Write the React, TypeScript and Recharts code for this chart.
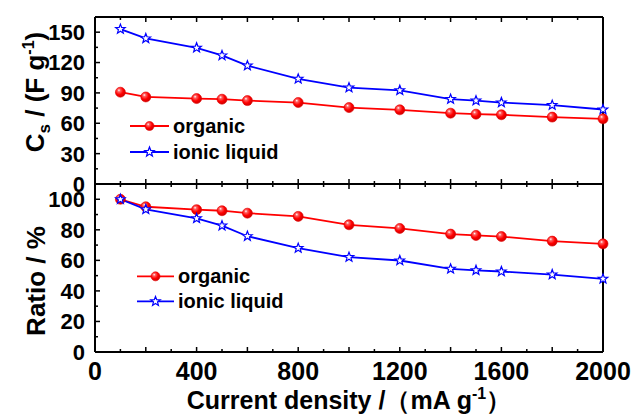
import React from 'react';
import { LineChart, Line, XAxis, YAxis, Legend } from 'recharts';

// current density, mA g-1
const currentDensity = [100, 200, 400, 500, 600, 800, 1000, 1200, 1400, 1500, 1600, 1800, 2000];
// specific capacitance, F g-1
const csOrganic = [90.7, 86, 84.4, 83.8, 82.4, 80.5, 75.5, 73.3, 70, 69, 68.4, 66.1, 64.4];
const csIonic = [153, 143.8, 134.6, 127, 116.9, 103.8, 95.2, 92.6, 83.8, 82.4, 80.5, 77.9, 73.6];
// capacitance retention, %
const ratioOrganic = [100, 95.1, 93.2, 92.5, 90.9, 88.8, 83.3, 80.9, 77.2, 76.3, 75.6, 72.6, 70.8];
const ratioIonic = [100, 93.4, 87.5, 82.7, 75.8, 68, 62.1, 59.9, 54.4, 53.5, 52.7, 50.7, 47.9];

const xTicks = [0, 100, 200, 300, 400, 500, 600, 700, 800, 900, 1000, 1100, 1200, 1300, 1400, 1500, 1600, 1700, 1800, 1900, 2000];
const csTicks = [0, 15, 30, 45, 60, 75, 90, 105, 120, 135, 150, 165];
const ratioTicks = [0, 10, 20, 30, 40, 50, 60, 70, 80, 90, 100, 110];

const seriesNames = ['organic', 'ionic liquid'];

const topData = currentDensity.map((x, i) => ({ x, organic: csOrganic[i], ionic: csIonic[i] }));
const bottomData = currentDensity.map((x, i) => ({ x, organic: ratioOrganic[i], ionic: ratioIonic[i] }));

const FONT = '"Liberation Sans", Arial, sans-serif';
const RED = '#ff0000';
const BLUE = '#0000ff';

type Side = 'left' | 'right' | 'top' | 'bottom';

const tickRenderer = (side: Side, majorStep: number, labelStep: number | null, fontSize = 22, maxLabel = Infinity) =>
  (props: any) => {
    const { x, y, payload } = props;
    const v: number = payload.value;
    const len = v % majorStep === 0 ? 5 : 3;
    const dx = side === 'left' ? len : side === 'right' ? -len : 0;
    const dy = side === 'top' ? len : side === 'bottom' ? -len : 0;
    const showLabel = labelStep !== null && v % labelStep === 0 && v <= maxLabel;
    return (
      <g>
        <line x1={x} y1={y} x2={x + dx} y2={y + dy} stroke="#000" strokeWidth={1.5} />
        {showLabel && side === 'left' && (
          <text x={x - 10} y={y} dy="0.36em" textAnchor="end" fontFamily={FONT} fontWeight="bold" fontSize={fontSize} fill="#000">
            {v}
          </text>
        )}
        {showLabel && side === 'bottom' && (
          <text x={x} y={y + 28} textAnchor="middle" fontFamily={FONT} fontWeight="bold" fontSize={fontSize} fill="#000">
            {v}
          </text>
        )}
      </g>
    );
  };

const Ball = ({ cx, cy, r = 5 }: { cx: number; cy: number; r?: number }) => (
  <circle cx={cx} cy={cy} r={r} fill="url(#ballGrad)" stroke="#e00000" strokeWidth={0.6} />
);

const Star = ({ cx, cy, r = 5 }: { cx: number; cy: number; r?: number }) => {
  const pts: string[] = [];
  for (let k = 0; k < 10; k++) {
    const rad = k % 2 === 0 ? r : r * 0.42;
    const a = -Math.PI / 2 + (k * Math.PI) / 5;
    pts.push(`${cx + rad * Math.cos(a)},${cy + rad * Math.sin(a)}`);
  }
  return <polygon points={pts.join(' ')} fill="#fff" stroke={BLUE} strokeWidth={1.2} />;
};

const renderBall = (p: any) => <Ball key={`b${p.index}`} cx={p.cx} cy={p.cy} />;
const renderStar = (p: any) => <Star key={`s${p.index}`} cx={p.cx} cy={p.cy} />;

const LegendBox = ({ lineW, rowH }: { lineW: number; rowH: number }) => (
  <div style={{ fontFamily: FONT, fontWeight: 'bold', fontSize: 20, color: '#000' }}>
    {seriesNames.map((name, i) => (
      <div key={name} style={{ display: 'flex', alignItems: 'center', height: rowH, whiteSpace: 'nowrap' }}>
        <svg width={lineW} height={rowH} style={{ display: 'block' }}>
          <line x1={0} y1={rowH / 2} x2={lineW} y2={rowH / 2} stroke={i === 0 ? RED : BLUE} strokeWidth={1.8} />
          {i === 0 ? <Ball cx={lineW / 2} cy={rowH / 2} r={4.5} /> : <Star cx={lineW / 2} cy={rowH / 2} />}
        </svg>
        <span style={{ marginLeft: 4, lineHeight: 1 }}>{name}</span>
      </div>
    ))}
  </div>
);

const axisLine = { stroke: '#000', strokeWidth: 2 };

export default function App() {
  return (
    <div style={{ position: 'absolute', left: 0, top: 0, width: 633, height: 414, background: '#fff' }}>
      <svg width={0} height={0} style={{ position: 'absolute' }}>
        <defs>
          <radialGradient id="ballGrad" cx="0.4" cy="0.38" r="0.65" fx="0.35" fy="0.3">
            <stop offset="0%" stopColor="#ffffff" />
            <stop offset="22%" stopColor="#ff6060" />
            <stop offset="60%" stopColor="#ff0000" />
            <stop offset="100%" stopColor="#c80000" />
          </radialGradient>
        </defs>
      </svg>

      {/* lower panel: retention ratio */}
      <div style={{ position: 'absolute', left: 0, top: 0 }}>
        <LineChart width={633} height={414} data={bottomData} margin={{ top: 183, right: 29, bottom: 61, left: 0 }}>
          <XAxis dataKey="x" type="number" domain={[0, 2000]} ticks={xTicks} interval={0} height={1}
            axisLine={axisLine} tickLine={false} tickSize={0} tickMargin={0}
            tick={tickRenderer('bottom', 200, 400, 25)} />
          <XAxis xAxisId="t" dataKey="x" type="number" orientation="top" domain={[0, 2000]} ticks={xTicks} interval={0} height={1}
            axisLine={axisLine} tickLine={false} tickSize={0} tickMargin={0}
            tick={tickRenderer('top', 200, null)} />
          <YAxis type="number" domain={[0, 110]} ticks={ratioTicks} interval={0} width={95}
            axisLine={axisLine} tickLine={false} tickSize={0} tickMargin={0}
            tick={tickRenderer('left', 20, 20, 22, 100)} />
          <YAxis yAxisId="r" type="number" orientation="right" domain={[0, 110]} ticks={ratioTicks} interval={0} width={1}
            axisLine={axisLine} tickLine={false} tickSize={0} tickMargin={0}
            tick={tickRenderer('right', 20, null)} />
          <Legend layout="vertical" align="center" verticalAlign="middle"
            wrapperStyle={{ left: 137, top: 264, width: 'auto' }}
            content={() => <LegendBox lineW={37} rowH={24.7} />} />
          <Line dataKey="organic" type="linear" stroke={RED} strokeWidth={1.8} dot={renderBall} isAnimationActive={false} />
          <Line dataKey="ionic" type="linear" stroke={BLUE} strokeWidth={1.8} dot={renderStar} isAnimationActive={false} />
        </LineChart>
      </div>

      {/* upper panel: specific capacitance */}
      <div style={{ position: 'absolute', left: 0, top: 0 }}>
        <LineChart width={633} height={414} data={topData} margin={{ top: 16, right: 29, bottom: 229, left: 0 }}>
          <XAxis dataKey="x" type="number" domain={[0, 2000]} ticks={xTicks} interval={0} height={1}
            axisLine={axisLine} tickLine={false} tickSize={0} tickMargin={0}
            tick={tickRenderer('bottom', 200, null)} />
          <XAxis xAxisId="t" dataKey="x" type="number" orientation="top" domain={[0, 2000]} ticks={xTicks} interval={0} height={1}
            axisLine={axisLine} tickLine={false} tickSize={0} tickMargin={0}
            tick={tickRenderer('top', 200, null)} />
          <YAxis type="number" domain={[0, 165]} ticks={csTicks} interval={0} width={95}
            axisLine={axisLine} tickLine={false} tickSize={0} tickMargin={0}
            tick={tickRenderer('left', 30, 30, 22, 150)} />
          <YAxis yAxisId="r" type="number" orientation="right" domain={[0, 165]} ticks={csTicks} interval={0} width={1}
            axisLine={axisLine} tickLine={false} tickSize={0} tickMargin={0}
            tick={tickRenderer('right', 30, null)} />
          <Legend layout="vertical" align="center" verticalAlign="middle"
            wrapperStyle={{ left: 130, top: 113, width: 'auto' }}
            content={() => <LegendBox lineW={39} rowH={26} />} />
          <Line dataKey="organic" type="linear" stroke={RED} strokeWidth={1.8} dot={renderBall} isAnimationActive={false} />
          <Line dataKey="ionic" type="linear" stroke={BLUE} strokeWidth={1.8} dot={renderStar} isAnimationActive={false} />
        </LineChart>
      </div>

      {/* axis titles */}
      <svg width={633} height={414} style={{ position: 'absolute', left: 0, top: 0, pointerEvents: 'none' }}>
        <g fontFamily={FONT} fontWeight="bold" fill="#000">
          <text transform="translate(44,92) rotate(-90)" textAnchor="middle" fontSize={26}>
            C<tspan dy={6} fontSize={17}>s</tspan><tspan dy={-6}> / (F g</tspan>
            <tspan dy={-10} fontSize={16}>-1</tspan><tspan dy={10}>)</tspan>
          </text>
          <text transform="translate(45,281) rotate(-90)" textAnchor="middle" fontSize={26}>
            Ratio / %
          </text>
          <text x={349} y={409} textAnchor="middle" fontSize={25}>
            Current density /（mA g<tspan dy={-10} fontSize={16}>-1</tspan><tspan dy={10}>）</tspan>
          </text>
        </g>
      </svg>
    </div>
  );
}
